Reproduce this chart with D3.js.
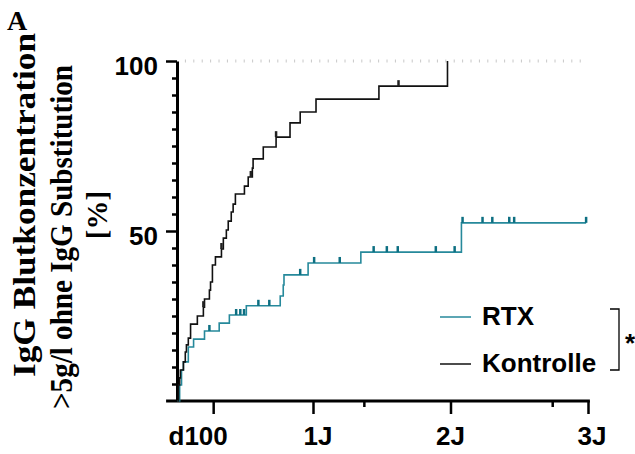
<!DOCTYPE html>
<html>
<head>
<meta charset="utf-8">
<title>IgG</title>
<script src="https://cdn.jsdelivr.net/npm/d3@7"></script>
<style>
  body { margin: 0; background: #fff; }
  svg { display: block; }
</style>
</head>
<body>
<div id="chart"></div>
<script>
// values (days after start, cumulative %)
var rtxDays = [5, 11, 16, 21, 34, 48, 77, 116, 143, 188, 278, 286, 288, 352, 492, 759, 1090];
var rtxPct  = [0, 4.7, 9.1, 11.5, 15.9, 18.2, 20.6, 22.9, 25.3, 28, 30.9, 34.1, 37.1, 40.6, 43.8, 52.4, 52.4];
var rtxCensored = [90, 161, 172, 182, 220, 249, 331, 368, 436, 526, 561, 590, 691, 741, 762, 815, 841, 886, 899, 1090];

var kontrolleDays = [5, 8, 11, 13, 21, 26, 29, 34, 40, 58, 74, 77, 90, 93, 98, 106, 122, 127, 135, 140,
                     148, 153, 159, 183, 193, 204, 206, 233, 267, 304, 331, 373, 540, 722];
var kontrollePct  = [0, 4.7, 6.8, 9.1, 11.5, 14.4, 16.5, 18.5, 22.6, 25, 27.6, 30, 32.6, 35, 40, 42.4, 44.7, 47.9, 50.3, 52.9,
                     55.6, 57.9, 60.9, 63.2, 65.9, 68.5, 71.2, 74.7, 77.6, 81.8, 85, 88.8, 92.6, 100];
var kontrolleCensored = [74, 122, 200, 267, 592];

var seriesNames = ["RTX", "Kontrolle"];
var seriesColors = ["#26899b", "#111111"];

var xMajor = [100, 365, 730, 1095];
var xMajorLabels = ["d100", "1J", "2J", "3J"];
var xMinor = [500, 1000];
var yTicks = d3.range(0, 101, 5);
var yLabelled = [50, 100];
var titleLines = ["IgG Blutkonzentration", ">5g/l ohne IgG Substitution", "[%]"];

var W = 635, H = 454;
var sans = "'Liberation Sans', Arial, Helvetica, sans-serif";
var serif = "'Liberation Serif', 'Times New Roman', serif";

var svg = d3.select("#chart").append("svg")
    .attr("width", W).attr("height", H)
    .style("background", "#fff");

var x = d3.scaleLinear().domain([0, 1095]).range([175.5, 588]);
var y = d3.scaleLinear().domain([0, 100]).range([401, 61]);

// dotted reference line at 100 %
svg.append("line")
    .attr("x1", x(25)).attr("x2", x(1085))
    .attr("y1", y(100)).attr("y2", y(100))
    .attr("stroke", "#c8c8c8").attr("stroke-width", 3)
    .attr("stroke-dasharray", "1,7.4");

// y axis
var yAxis = svg.append("g")
    .attr("transform", "translate(177,0)")
    .call(d3.axisLeft(y).tickValues(yTicks).tickSize(5).tickSizeOuter(0).tickFormat(""));
yAxis.select(".domain").attr("stroke-width", 3);
yAxis.selectAll(".tick line")
    .attr("stroke-width", 2.5)
    .attr("x2", function (d) { return yLabelled.indexOf(d) >= 0 ? -11 : -5; });
yAxis.selectAll(".tick").filter(function (d) { return d === 0; }).remove();

yLabelled.forEach(function (v) {
    svg.append("text")
        .attr("x", 158).attr("y", y(v) + 14)
        .attr("text-anchor", "end")
        .style("font-family", sans).style("font-weight", "bold").style("font-size", "26px")
        .text(v);
});

// x axis
var xAxis = svg.append("g")
    .attr("transform", "translate(0,401)")
    .call(d3.axisBottom(x).tickValues(xMajor.concat(xMinor)).tickSize(13).tickSizeOuter(0).tickFormat(""));
xAxis.select(".domain").remove();
xAxis.append("line")
    .attr("x1", x(-25)).attr("x2", x(1100))
    .attr("stroke", "#000").attr("stroke-width", 3);
xAxis.selectAll(".tick line")
    .attr("stroke-width", 2.5)
    .attr("y2", function (d) { return xMinor.indexOf(d) >= 0 ? 6 : 13; });

var labelShift = [-15, 5, 0, 4];
xMajor.forEach(function (v, i) {
    svg.append("text")
        .attr("x", x(v) + labelShift[i]).attr("y", 445)
        .attr("text-anchor", "middle")
        .style("font-family", sans).style("font-weight", "bold").style("font-size", "26px")
        .text(xMajorLabels[i]);
});

// curves
function levelAt(days, pct, d) {
    var i = d3.bisectRight(days, d) - 1;
    return pct[Math.max(0, i)];
}

var line = d3.line()
    .x(function (d) { return x(d[0]); })
    .y(function (d) { return y(d[1]); })
    .curve(d3.curveStepAfter);

var series = [
    { days: rtxDays, pct: rtxPct, cens: rtxCensored, color: seriesColors[0], mark: "#0d6f82" },
    { days: kontrolleDays, pct: kontrollePct, cens: kontrolleCensored, color: seriesColors[1], mark: "#222" }
];

series.forEach(function (s) {
    svg.append("path")
        .datum(d3.zip(s.days, s.pct))
        .attr("fill", "none")
        .attr("stroke", s.color)
        .attr("stroke-width", 1.6)
        .attr("d", line);

    svg.append("g").selectAll("line")
        .data(s.cens)
        .join("line")
        .attr("x1", function (d) { return x(d); })
        .attr("x2", function (d) { return x(d); })
        .attr("y1", function (d) { return y(levelAt(s.days, s.pct, d)); })
        .attr("y2", function (d) { return y(levelAt(s.days, s.pct, d)) - 6; })
        .attr("stroke", s.mark)
        .attr("stroke-width", 2.5);
});

// legend
var legendY = [317, 364];
seriesNames.forEach(function (name, i) {
    svg.append("line")
        .attr("x1", 440).attr("x2", 471)
        .attr("y1", legendY[i]).attr("y2", legendY[i])
        .attr("stroke", seriesColors[i]).attr("stroke-width", 1.5);
    svg.append("text")
        .attr("x", 482).attr("y", legendY[i] + 8)
        .style("font-family", sans).style("font-weight", "bold").style("font-size", "26px")
        .text(name);
});

// significance bracket
svg.append("path")
    .attr("d", "M610,309H619V370H610")
    .attr("fill", "none").attr("stroke", "#000").attr("stroke-width", 1.3);
svg.append("text")
    .attr("x", 625).attr("y", 352)
    .style("font-family", sans).style("font-weight", "bold").style("font-size", "26px")
    .text("*");

// y title
var titleSizes = [32, 32, 29];
var titleX = [35, 72, 107];
var titleMid = [205, 237, 215];
var titleLen = [344, 344, null];
titleLines.forEach(function (t, i) {
    var tx = svg.append("text")
        .attr("transform", "translate(" + titleX[i] + "," + titleMid[i] + ") rotate(-90)")
        .attr("text-anchor", "middle")
        .style("font-family", serif).style("font-weight", "bold").style("font-size", titleSizes[i] + "px")
        .text(t);
    if (titleLen[i]) tx.attr("textLength", titleLen[i]).attr("lengthAdjust", "spacingAndGlyphs");
});

// panel letter
svg.append("text")
    .attr("x", 7).attr("y", 30)
    .style("font-family", serif).style("font-weight", "bold").style("font-size", "28px")
    .text("A");
</script>
</body>
</html>
